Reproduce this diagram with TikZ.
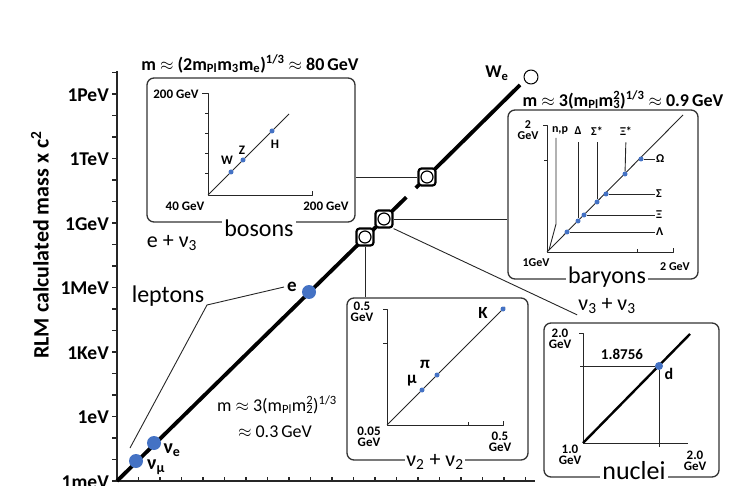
\documentclass[tikz,border=0pt]{standalone}
\usepackage{fontspec}
\setmainfont{Carlito}
\usetikzlibrary{calc}
\definecolor{dotblue}{HTML}{4472C4}
\newcommand{\fsz}[1]{\fontsize{#1}{#1}\selectfont}
\newcommand{\subsup}[2]{\rlap{\textsubscript{#1}}\textsuperscript{#2}}
\tikzset{
  axisline/.style={line width=1.1pt, black!85},
  ticklab/.style={font=\fsz{19.5}\bfseries, anchor=east, inner sep=0pt},
  ylab/.style={font=\fsz{22}\bfseries, rotate=90, inner sep=0pt},
  mainline/.style={line width=3.8pt, black},
  thinline/.style={line width=0.9pt, black!85},
  inset/.style={line width=0.9pt, black!85},
  panel/.style={draw=black!80, line width=1.3pt, rounded corners=7pt, inner sep=0pt},
  panellab/.style={font=\fsz{24}, fill=white, inner sep=2pt},
  sumlab/.style={font=\fsz{22}, fill=white, inner sep=1pt},
  formula/.style={font=\fsz{18}, inner sep=0pt},
  zoombox/.style={draw, line width=2.2pt, rounded corners=3pt, fill=white, minimum size=17pt, inner sep=0pt},
  lens/.style={circle, draw, line width=1.2pt, minimum size=12pt, inner sep=0pt},
  bigdot/.style={circle, fill=dotblue, minimum size=14pt, inner sep=0pt},
  smalldot/.style={circle, fill=dotblue, minimum size=5pt, inner sep=0pt},
  dotlab/.style={font=\fsz{20}\bfseries, inner sep=0pt},
  partlab/.style={font=\fsz{17}\bfseries, inner sep=0pt},
  smalllab/.style={font=\fsz{13}\bfseries, inner sep=0pt, align=center},
  barlab/.style={font=\fsz{12}\bfseries, inner sep=1pt, align=center},
}
\begin{document}
\begin{tikzpicture}[x=1pt, y=-1pt, line join=round]
\useasboundingbox (0,0) rectangle (741,486);

% main axes
\coordinate (O) at (117,481);
\draw[axisline] (117,71) -- (O) -- (535,481);
\foreach \k in {0,...,19}
  \draw[axisline] (112,{481-21.5*\k}) -- (117,{481-21.5*\k});
\foreach \k in {1,...,19}
  \draw[axisline] ({117+21.5*\k},481) -- ({117+21.5*\k},477);
\foreach \lab [count=\j from 0] in {1meV,1eV,1KeV,1MeV,1GeV,1TeV,1PeV}
  \node[ticklab] (tick\j) at (109,{482-64.5*\j}) {\lab};
\node[ylab] (ylabel) at (40,245) {RLM calculated mass x c\textsuperscript{2}};

% main line with zoom marks
\coordinate (Wend) at (520,85);
\coordinate (s1) at (365,237);
\coordinate (s2) at (384,219);
\coordinate (s3) at (427,177);
\draw[mainline] (O) -- ($(s2)!0.52!(s3)$);
\draw[mainline] ($(s2)!0.74!(s3)$) -- (Wend);
\node[zoombox] (S1) at (s1) {};
\node[lens] at (S1) {};
\node[zoombox] (S2) at (s2) {};
\node[lens] at (S2) {};
\node[zoombox] (S3) at (s3) {};
\node[lens] at (S3) {};

\node[circle, draw, line width=1pt, minimum size=14pt, inner sep=0pt] (We) at (531,77) {};
\node[partlab, font=\fsz{18}\bfseries] (Welab) at (497,73) {W\textsubscript{e}};

% leptons
\node[bigdot] (numu) at (136,461) {};
\node[bigdot] (nue) at (154,443) {};
\node[bigdot] (e) at (309,292) {};
\node[dotlab] (numulab) at (156,467) {ν\textsubscript{μ}};
\node[dotlab] (nuelab) at (172,450) {ν\textsubscript{e}};
\node[dotlab, font=\fsz{19}\bfseries] (elab) at (292,287) {e};
\node[font=\fsz{24}, inner sep=0pt] (leptons) at (168,296) {leptons};
\coordinate (lepjoin) at (207,305);
\coordinate (lepfoot) at (130,448);
\draw[thinline] ([xshift=-3pt]elab.west) -- (lepjoin) -- (lepfoot);
\node[formula] (lepmass) at (277,405) {m $\approx$ 3(m\textsubscript{Pl}m\subsup{2}{2})\textsuperscript{1/3}};
\node[formula] (lepval) at (275,432) {$\approx$ 0.3\,GeV};

% panels
\node[panel, minimum width=208pt, minimum height=144pt] (bosonsbox) at (251,150) {};
\node[panel, minimum width=190pt, minimum height=169pt] (baryonsbox) at (603,194.5) {};
\node[panel, minimum width=181pt, minimum height=162pt] (mesonsbox) at (437.5,379) {};
\node[panel, minimum width=175pt, minimum height=154pt] (nucleibox) at (631.5,400) {};

% bosons
\node[formula, font=\fsz{18}\bfseries] (bostitle) at (250,64) {m $\approx$ (2m\textsubscript{Pl}m\textsubscript{3}m\textsubscript{e})\textsuperscript{1/3} $\approx$ 80\,GeV};
\node[panellab] (bosons) at (259,228) {bosons};
\node[sumlab, fill=none] (enuthree) at (172,243) {e + ν\textsubscript{3}};
\coordinate (bo) at (208,195);
\draw[inset] (202,93) -- (208,93) -- (bo) -- (312,195) -- (312,191);
\foreach \y in {113,133,153,173}
  \draw[inset] (205,\y) -- (208,\y);
\draw[inset] (bo) -- (289,114);
\node[smalldot] (W) at (231,172) {};
\node[smalldot] (Z) at (243,160) {};
\node[smalldot] (H) at (272,131) {};
\node[smalllab] (Wlab) at (227,160) {W};
\node[smalllab] (Zlab) at (242,150) {Z};
\node[smalllab] (Hlab) at (275,144) {H};
\node[smalllab] (bosytop) at (176,94) {200 GeV};
\node[smalllab] (bosxlow) at (185,206) {40 GeV};
\node[smalllab] (bosxtop) at (326,206) {200 GeV};

% baryons
\node[formula, font=\fsz{18}\bfseries] (bartitle) at (623,100) {m $\approx$ 3(m\textsubscript{Pl}m\subsup{3}{2})\textsuperscript{1/3} $\approx$ 0.9\,GeV};
\node[panellab] (baryons) at (607,277) {baryons};
\coordinate (ba) at (547,252);
\draw[inset] (543,125) -- (547,125) -- (ba) -- (673,252) -- (673,248);
\draw[inset] (544,160) -- (547,160);
\draw[inset] (637,252) -- (637,249);
\draw[inset] (ba) -- (683,115);
\node[smalldot] (Lambda) at (567,232) {};
\node[smalldot] (Delta) at (578,221) {};
\node[smalldot] (Xi) at (584,215) {};
\node[smalldot] (Sigmastar) at (597,202) {};
\node[smalldot] (Sigma) at (606,194) {};
\node[smalldot] (Xistar) at (625,174) {};
\node[smalldot] (Omega) at (641,159) {};
\node[barlab] (nplab) at (560,130) {n,p};
\node[barlab] (Deltalab) at (578,131) {Δ};
\node[barlab] (Sigmastarlab) at (597,131) {Σ*};
\node[barlab] (Xistarlab) at (626,131) {Ξ*};
\node[barlab, anchor=west] (Omegalab) at (655,159) {Ω};
\node[barlab, anchor=west] (Sigmalab) at (655,194) {Σ};
\node[barlab, anchor=west] (Xilab) at (655,215) {Ξ};
\node[barlab, anchor=west] (Lambdalab) at (655,232) {Λ};
\draw[inset] (556,138) -- (556,224) -- (549,250);
\draw[inset, shorten <=6pt] (Deltalab.south) -- (Delta);
\draw[inset, shorten <=6pt] (Sigmastarlab.south) -- (Sigmastar);
\draw[inset, shorten <=6pt] (Xistarlab.south) -- (Xistar);
\foreach \p in {Omega,Sigma,Xi,Lambda}
  \draw[inset] (\p) -- (\p lab.west);
\node[barlab] (barytop) at (528,130) {2\\[-1pt]GeV};
\node[barlab] (barxlow) at (536,263) {1GeV};
\node[barlab] (barxtop) at (675,267) {2 GeV};

% mesons
\node[sumlab] (nutwo) at (435,462) {ν\textsubscript{2} + ν\textsubscript{2}};
\coordinate (me) at (387,425);
\draw[inset] (383,309) -- (387,309) -- (me) -- (503,425) -- (503,421);
\draw[inset] (383,343) -- (387,343);
\draw[inset] (468,425) -- (468,422);
\draw[inset] (me) -- (505,307);
\node[smalldot] (mu) at (422,390) {};
\node[smalldot] (pi) at (437,375) {};
\node[smalldot] (K) at (503,309) {};
\node[partlab] (mulab) at (412,381) {μ};
\node[partlab] (pilab) at (425,364) {π};
\node[partlab] (Klab) at (483,313) {K};
\node[smalllab] (mesytop) at (362,312) {0.5\\[-2pt]GeV};
\node[smalllab] (mesxlow) at (369,437) {0.05\\[-2pt]GeV};
\node[smalllab] (mesxtop) at (500,442) {0.5\\[-2pt]GeV};

% nuclei
\node[sumlab] (nuthree) at (607,306) {ν\textsubscript{3} + ν\textsubscript{3}};
\node[panellab, font=\fsz{26}] (nuclei) at (634,471) {nuclei};
\coordinate (nu) at (583,443);
\draw[inset] (579,333) -- (583,333) -- (nu) -- (688,443);
\draw[line width=2.4pt] (nu) -- (690,334);
\node[smalldot, minimum size=8pt] (d) at (659,366) {};
\draw[inset] (580,366) -- (d) -- (659,447);
\node[smalllab, font=\fsz{15}\bfseries] (deutmass) at (622,354) {1.8756};
\node[partlab, font=\fsz{16}\bfseries] (dlab) at (669,374) {d};
\node[smalllab] (nucytop) at (560,339) {2.0\\[-2pt]GeV};
\node[smalllab] (nucxlow) at (570,455) {1.0\\[-2pt]GeV};
\node[smalllab] (nucxtop) at (695,461) {2.0\\[-2pt]GeV};

% zoom connectors
\draw[thinline] (S3.west) -- (S3.west -| bosonsbox.east);
\draw[thinline] (S2.east) -- (S2.east -| baryonsbox.west);
\draw[thinline] (S2.south east) -- (nuthree.south west);
\draw[thinline] (S1.south) -- (S1.south |- mesonsbox.north);
\end{tikzpicture}
\end{document}
